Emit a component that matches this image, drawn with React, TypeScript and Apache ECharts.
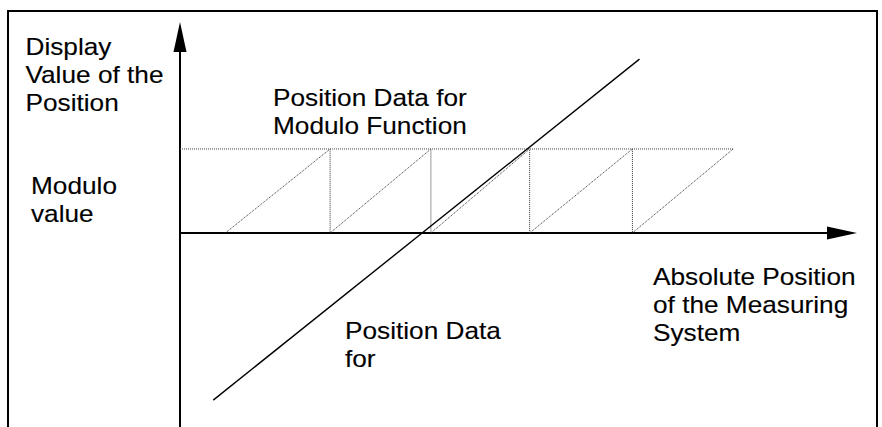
import React, { useEffect, useRef } from "react";
import * as echarts from "echarts";

// Sawtooth (position data for modulo function), in units of one modulo period
const sawX = [0.45, 1.49, 1.49, 2.49, 2.49, 3.47, 3.47, 4.49, 4.49, 5.49];
const sawY = [0, 1, 0, 1, 0, 1, 0, 1, 0, 1];
// Modulo value ceiling line
const moduloX = [0, 5.49];
const moduloY = [1, 1];
// Absolute position line
const absX = [0.33, 4.56];
const absY = [-1.99, 2.07];

const labels = {
  yTitle: "Display\nValue of the\nPosition",
  moduloData: "Position Data for\nModulo Function",
  moduloValue: "Modulo\nvalue",
  xTitle: "Absolute Position\nof the Measuring\nSystem",
  absData: "Position Data\nfor",
};

const zip = (xs: number[], ys: number[]) => xs.map((x, i) => [x, ys[i]]);

export default function App() {
  const ref = useRef<HTMLDivElement>(null);
  useEffect(() => {
    document.body.style.margin = "0";
    if (!ref.current) return;
    const chart = echarts.init(ref.current, null, { renderer: "svg" });
    const font = "'Liberation Sans', Arial, Helvetica, sans-serif";
    const txt = (x: number, y: number, text: string) => ({
      type: "text",
      x,
      y,
      scaleX: 1.14,
      silent: true,
      style: {
        text,
        fill: "#000",
        stroke: "#000",
        lineWidth: 0.12,
        fontSize: 23,
        fontFamily: font,
        lineHeight: 28,
        verticalAlign: "top",
        align: "left",
      },
    });
    chart.setOption({
      animation: false,
      backgroundColor: "#fff",
      grid: { left: 180, right: 40, top: 37, bottom: 0 },
      xAxis: {
        type: "value",
        min: 0,
        max: 6.57,
        axisLine: {
          show: true,
          onZero: true,
          symbol: ["none", "triangle"],
          symbolSize: [13, 30],
          lineStyle: { color: "#000", width: 2 },
        },
        axisTick: { show: false },
        axisLabel: { show: false },
        splitLine: { show: false },
      },
      yAxis: {
        type: "value",
        min: -2.31,
        max: 2.333,
        axisLine: {
          show: true,
          onZero: false,
          symbol: ["none", "triangle"],
          symbolSize: [13, 30],
          lineStyle: { color: "#000", width: 2 },
        },
        axisTick: { show: false },
        axisLabel: { show: false },
        splitLine: { show: false },
      },
      series: [
        {
          type: "line",
          data: zip(moduloX, moduloY),
          symbol: "none",
          silent: true,
          lineStyle: { color: "#444", width: 1, type: "dotted" },
        },
        {
          type: "line",
          data: zip(sawX, sawY),
          symbol: "none",
          silent: true,
          lineStyle: { color: "#333", width: 1, type: "dotted" },
        },
        {
          type: "line",
          data: zip(absX, absY),
          symbol: "none",
          silent: true,
          lineStyle: { color: "#000", width: 1.4 },
        },
      ],
      graphic: [
        {
          type: "rect",
          silent: true,
          shape: { x: 8, y: 11, width: 869, height: 600 },
          style: { fill: "none", stroke: "#000", lineWidth: 2 },
        },
        txt(25.5, 33, labels.yTitle),
        txt(273, 84, labels.moduloData),
        txt(31, 172.3, labels.moduloValue),
        txt(653, 263, labels.xTitle),
        txt(345, 317, labels.absData),
      ],
    });
    return () => chart.dispose();
  }, []);
  return <div ref={ref} style={{ width: 882, height: 427 }} />;
}
